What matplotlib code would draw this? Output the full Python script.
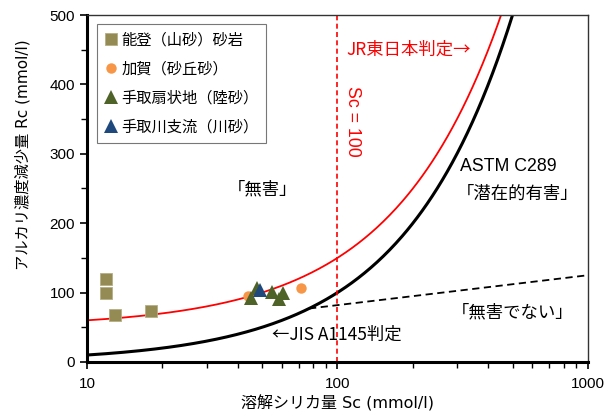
import numpy as np
import matplotlib.pyplot as plt
from matplotlib.ticker import FixedLocator, FixedFormatter, NullFormatter, MultipleLocator

plt.rcParams['font.family'] = ['Liberation Sans', 'Noto Sans CJK JP', 'DejaVu Sans']
plt.rcParams['font.size'] = 11

# 測定データ (Sc, Rc)
noto_sc = [11.9, 11.9, 12.9, 18.0]
noto_rc = [119, 99, 68, 74]
kaga_sc = [44.0, 71.3]
kaga_rc = [95, 107]
tedori_fan_sc = [45.1, 47.6, 54.6, 58.6, 60.8]
tedori_fan_rc = [92, 106, 101, 91, 100]
tedori_riv_sc = [49.0]
tedori_riv_rc = [104]

# 判定線
sc_curve = np.logspace(1, 3, 400)
jis_rc = sc_curve            # Rc = Sc
jr_rc = sc_curve + 50        # Rc = Sc + 50
dash_sc = [77, 1000]
dash_rc = [77, 125]

cjk = ['Noto Sans CJK JP', 'DejaVu Sans']
lab_font = ['DejaVu Sans', 'Noto Sans CJK JP']

fig = plt.figure(figsize=(6.15, 4.17), dpi=100)
ax = fig.add_axes([0.1415, 0.132, 0.8145, 0.832])

ax.plot(sc_curve, jis_rc, color='black', lw=2.2, zorder=2)
ax.plot(sc_curve, jr_rc, color='red', lw=1.3, zorder=2)
ax.plot(dash_sc, dash_rc, color='black', lw=1.3, ls=(0, (4, 2.5)), zorder=2)
ax.plot([100, 100], [0, 500], color='red', lw=1.2, ls=(0, (3, 2)), zorder=2)

ax.plot(noto_sc, noto_rc, 's', color='#948A54', ms=8.5, mec='#B5AE85', mew=0.6,
        label='能登（山砂）砂岩', zorder=3)
ax.plot(kaga_sc, kaga_rc, 'o', color='#F79646', ms=7.5, mew=0,
        label='加賀（砂丘砂）', zorder=3)
ax.plot(tedori_fan_sc, tedori_fan_rc, '^', color='#4F6228', ms=9.5, mew=0,
        label='手取扇状地（陸砂）', zorder=4)
ax.plot(tedori_riv_sc, tedori_riv_rc, '^', color='#1F497D', ms=9.5, mew=0,
        label='手取川支流（川砂）', zorder=4)

ax.set_xscale('log')
ax.set_xlim(10, 1000)
ax.set_ylim(0, 500)
ax.xaxis.set_major_locator(FixedLocator([10, 100, 1000]))
ax.xaxis.set_major_formatter(FixedFormatter(['10', '100', '1000']))
ax.xaxis.set_minor_formatter(NullFormatter())
ax.yaxis.set_major_locator(MultipleLocator(100))
ax.yaxis.set_minor_locator(MultipleLocator(50))

ax.tick_params(which='major', direction='out', length=5, width=1.2, labelsize=11)
ax.tick_params(which='minor', direction='out', length=4, width=1.0)
ax.tick_params(axis='x', pad=6)
for side in ['left', 'bottom']:
    ax.spines[side].set_linewidth(2.2)
for side in ['top', 'right']:
    ax.spines[side].set_linewidth(1.0)
    ax.spines[side].set_color('#333333')

ax.set_xlabel('溶解シリカ量 Sc (mmol/l)', fontsize=11.5, family=lab_font, labelpad=3)
ax.set_ylabel('アルカリ濃度減少量 Rc (mmol/l)', fontsize=11, family=lab_font)
ax.yaxis.set_label_coords(-0.112, 0.597)

ax.text(109, 450, 'JR東日本判定→', color='red', fontsize=12.5, family=cjk,
        va='center', ha='left')
ax.text(115, 347, 'Sc = 100', color='red', fontsize=12.8, va='center', ha='center',
        rotation=-90)
ax.text(309, 281, 'ASTM C289', fontsize=12.8, va='center', ha='left')
ax.text(300, 243, '「潜在的有害」', fontsize=12.5, family=cjk, va='center', ha='left')
ax.text(50, 248, '「無害」', fontsize=12.5, family=cjk, va='center', ha='center')
ax.text(502, 71, '「無害でない」', fontsize=12.5, family=cjk, va='center', ha='center')
ax.text(54.8, 39, '←JIS A1145判定', fontsize=12.5, family=cjk, va='center', ha='left')

leg = ax.legend(loc='upper left', bbox_to_anchor=(0.02, 0.975),
                prop={'family': cjk, 'size': 11},
                frameon=True, fancybox=False, edgecolor='#555555',
                handlelength=0.8, handletextpad=0.3, labelspacing=0.78,
                borderpad=0.5, borderaxespad=0, numpoints=1)
leg.get_frame().set_linewidth(0.8)

fig.savefig('out.png', dpi=100)
